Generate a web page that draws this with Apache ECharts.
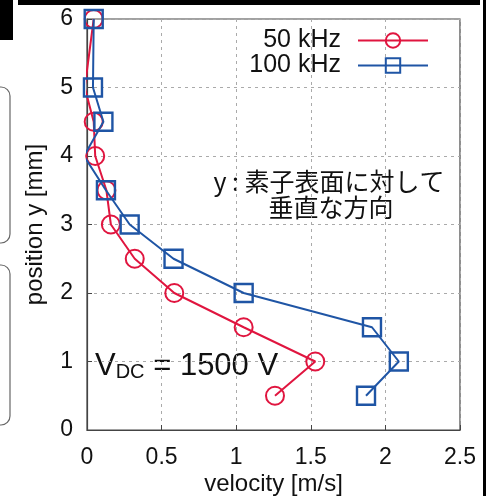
<!DOCTYPE html>
<html>
<head>
<meta charset="utf-8">
<script src="https://cdn.jsdelivr.net/npm/echarts@6/dist/echarts.min.js"></script>
<style>
html,body{margin:0;padding:0;background:#fff;}
#chart{width:487px;height:496px;}
</style>
</head>
<body>
<div id="chart"></div>
<script>
// position y [mm]
const positions = [6, 5, 4.5, 4, 3.5, 3, 2.5, 2, 1.5, 1, 0.5];
// velocity [m/s]
const vel50k = [0.045, -0.015, 0.045, 0.055, 0.13, 0.16, 0.32, 0.585, 1.05, 1.53, 1.26];
const vel100k = [0.045, 0.04, 0.11, -0.02, 0.127, 0.286, 0.58, 1.05, 1.91, 2.09, 1.87];
const seriesNames = ['50 kHz', '100 kHz'];
const xTicks = [0, 0.5, 1, 1.5, 2, 2.5];
const yTicks = [0, 1, 2, 3, 4, 5, 6];

const RED = '#e0153f';
const BLUE = '#1f55a5';
const FONT = 'Liberation Sans, Arial, sans-serif';

const chart = echarts.init(document.getElementById('chart'), null, {renderer: 'canvas'});

function pairs(xs) { return xs.map((v, i) => [v, positions[i]]); }

const option = {
  backgroundColor: '#fff',
  animation: false,
  grid: {left: 87, top: 19, width: 373, height: 411, outerBoundsMode: 'none', containLabel: false,
    show: true, borderColor: '#444', borderWidth: 1.2, backgroundColor: 'transparent'},
  legend: {
    right: 58, top: 28, orient: 'vertical', align: 'right', padding: 0,
    itemWidth: 70, itemHeight: 18, itemGap: 0,
    textStyle: {fontFamily: FONT, fontSize: 25, color: '#111', lineHeight: 24, padding: [0, 12, 0, 0]},
    data: seriesNames
  },
  xAxis: {
    type: 'value', min: xTicks[0], max: xTicks[xTicks.length - 1], interval: 0.5,
    name: 'velocity [m/s]', nameLocation: 'middle', nameGap: 42, nameMoveOverlap: false,
    nameTextStyle: {fontFamily: FONT, fontSize: 24, color: '#111'},
    axisLine: {show: true, lineStyle: {color: '#444', width: 1.2}},
    axisTick: {show: true, inside: true, length: 5, lineStyle: {color: '#444'}},
    axisLabel: {fontFamily: FONT, fontSize: 23, color: '#111', margin: 16,
      formatter: v => String(v)},
    splitLine: {show: true, lineStyle: {color: '#aaa', type: [3, 4], width: 1}}
  },
  yAxis: {
    type: 'value', min: yTicks[0], max: yTicks[yTicks.length - 1], interval: 1,
    name: 'position y [mm]', nameLocation: 'middle', nameGap: 40, nameRotate: 90, nameMoveOverlap: false,
    nameTextStyle: {fontFamily: FONT, fontSize: 24, color: '#111'},
    axisLine: {show: true, lineStyle: {color: '#444', width: 1.2}},
    axisTick: {show: true, inside: true, length: 5, lineStyle: {color: '#444'}},
    axisLabel: {fontFamily: FONT, fontSize: 23, color: '#111', margin: 14},
    splitLine: {show: true, lineStyle: {color: '#aaa', type: [3, 4], width: 1}}
  },
  series: [
    {
      name: seriesNames[0], type: 'line', data: pairs(vel50k),
      symbol: 'circle', symbolSize: 18, color: RED,
      lineStyle: {color: RED, width: 2},
      itemStyle: {color: 'transparent', borderColor: RED, borderWidth: 2},
      z: 3
    },
    {
      name: seriesNames[1], type: 'line', data: pairs(vel100k),
      symbol: 'rect', symbolSize: 18, color: BLUE,
      lineStyle: {color: BLUE, width: 2},
      itemStyle: {color: 'transparent', borderColor: BLUE, borderWidth: 2.4},
      z: 4
    }
  ],
  graphic: [
    {type: 'text', left: 95, top: 351, style: {
      text: '{v|V}{s|DC}{v| = 1500 V}', fill: '#111',
      rich: {
        v: {fontFamily: FONT, fontSize: 31, fill: '#111', verticalAlign: 'bottom', lineHeight: 35},
        s: {fontFamily: FONT, fontSize: 20, fill: '#111', verticalAlign: 'bottom', lineHeight: 32}
      }
    }},
    {type: 'text', x: 329, y: 181, style: {
      text: 'y : 素子表面に対して', fill: '#111', align: 'center', verticalAlign: 'middle',
      font: '25px "Noto Sans CJK JP", sans-serif'
    }},
    {type: 'text', x: 331, y: 207, style: {
      text: '垂直な方向', fill: '#111', align: 'center', verticalAlign: 'middle',
      font: '25px "Noto Sans CJK JP", sans-serif'
    }},
    // surrounding crop artifacts
    {type: 'rect', shape: {x: 18, y: 0, width: 462, height: 5}, style: {fill: '#000'}, silent: true},
    {type: 'rect', shape: {x: 0, y: 0, width: 13, height: 40}, style: {fill: '#000'}, silent: true},
    {type: 'rect', shape: {x: 483, y: 0, width: 3, height: 496}, style: {fill: '#000'}, silent: true},
    {type: 'rect', shape: {x: -30, y: 87, width: 40, height: 156, r: 9}, style: {fill: 'none', stroke: '#666', lineWidth: 1.2}, silent: true},
    {type: 'rect', shape: {x: -30, y: 265, width: 40, height: 160, r: 9}, style: {fill: 'none', stroke: '#666', lineWidth: 1.2}, silent: true}
  ]
};
chart.setOption(option);
</script>
</body>
</html>
